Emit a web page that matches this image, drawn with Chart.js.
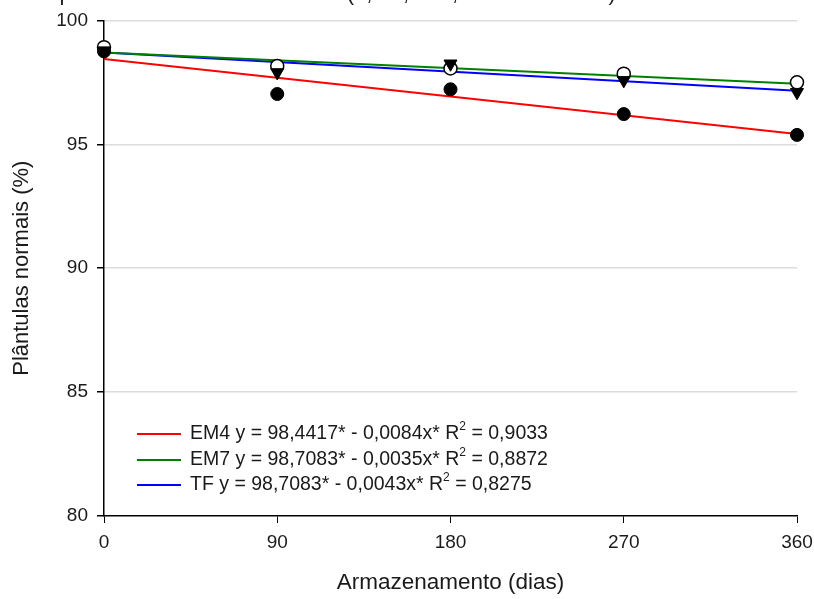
<!DOCTYPE html>
<html>
<head>
<meta charset="utf-8">
<script src="https://cdn.jsdelivr.net/npm/chart.js@4/dist/chart.umd.min.js"></script>
<style>
  html, body { margin: 0; padding: 0; background: #fff; overflow: hidden; }
  #wrap { position: relative; width: 814px; height: 599px; }
  #caption {
    position: absolute; top: -18px; right: 192px;
    font: 22px Arial, "Liberation Sans", sans-serif; line-height: 22px;
    color: #222; white-space: nowrap;
  }
</style>
</head>
<body>
<div id="wrap">
  <canvas id="germChart" width="814" height="599"></canvas>
  <div id="caption">sementes tratadas em diferentes períodos de armazenamento (0, 90, 180, 270 e 360 dias).</div>
</div>
<script>
// storage days
const days = [0, 90, 180, 270, 360];

// observed normal seedlings (%)
const em4Values = [98.75, 97.03, 97.22, 96.22, 95.38];
const em7Values = [98.92, 98.16, 98.06, 97.85, 97.50];
const tfValues  = [98.78, 97.90, 98.25, 97.58, 97.10];

// fitted regressions
const seriesNames = ["EM4", "EM7", "TF"];
const intercepts  = [98.4417, 98.7083, 98.7083];
const slopes      = [0.0084, 0.0035, 0.0043];
const r2Values    = [0.9033, 0.8872, 0.8275];
const lineColors  = ["#ff0000", "#008000", "#0000ff"];

const yTicks = [80, 85, 90, 95, 100];

const FONT = "Arial, 'Liberation Sans', sans-serif";

const fmt = v => v.toFixed(4).replace(".", ",");

const toPoints = vals => days.map((d, i) => ({ x: d, y: vals[i] }));

// regression lines from the stated equations
const lineSets = seriesNames.map((name, i) => ({
  type: "line",
  label: name,
  data: [0, 360].map(x => ({ x: x, y: intercepts[i] - slopes[i] * x })),
  borderColor: lineColors[i],
  borderWidth: 2,
  pointRadius: 0,
  fill: false,
  order: 10
}));

// legend drawn inside the plot, bottom-left
const eqLegend = {
  id: "eqLegend",
  afterDatasetsDraw(chart) {
    const ctx = chart.ctx;
    const x0 = 137, x1 = 181, tx = 190;
    const rows = [434, 460, 485];
    ctx.save();
    ctx.textBaseline = "middle";
    ctx.fillStyle = "#1a1a1a";
    seriesNames.forEach((name, i) => {
      const y = rows[i];
      ctx.strokeStyle = lineColors[i];
      ctx.lineWidth = 2;
      ctx.beginPath();
      ctx.moveTo(x0, y);
      ctx.lineTo(x1, y);
      ctx.stroke();
      ctx.font = "19.5px " + FONT;
      let s = name + " y = " + fmt(intercepts[i]) + "* - " + fmt(slopes[i]) + "x* R";
      ctx.fillText(s, tx, y);
      let x = tx + ctx.measureText(s).width;
      ctx.font = "12px " + FONT;
      ctx.fillText("2", x, y - 7);
      x += ctx.measureText("2").width;
      ctx.font = "19.5px " + FONT;
      ctx.fillText(" = " + fmt(r2Values[i]), x, y);
    });
    ctx.restore();
  }
};

new Chart(document.getElementById("germChart").getContext("2d"), {
  type: "scatter",
  data: {
    datasets: [
      ...lineSets,
      {
        label: "EM4",
        data: toPoints(em4Values),
        pointStyle: "circle",
        pointRadius: 6.5,
        backgroundColor: "#000",
        borderColor: "#000",
        borderWidth: 1,
        clip: false,
        order: 3
      },
      {
        label: "EM7",
        data: toPoints(em7Values),
        pointStyle: "circle",
        pointRadius: 6.5,
        backgroundColor: "#fff",
        borderColor: "#000",
        borderWidth: 1.5,
        clip: false,
        order: 2
      },
      {
        label: "TF",
        data: toPoints(tfValues),
        pointStyle: "triangle",
        pointRotation: 180,
        pointRadius: 7.5,
        backgroundColor: "#000",
        borderColor: "#000",
        borderWidth: 1,
        clip: false,
        order: 1
      }
    ]
  },
  options: {
    responsive: false,
    animation: false,
    layout: { padding: { top: 17, right: 17, bottom: 0, left: 0 } },
    plugins: {
      legend: { display: false },
      tooltip: { enabled: false }
    },
    scales: {
      x: {
        type: "linear",
        min: 0,
        max: 360,
        afterBuildTicks: s => { s.ticks = days.map(v => ({ value: v })); },
        afterFit: s => { s.height = 83; s.paddingRight = 0; s.paddingLeft = 0; },
        border: { color: "#000", width: 1.5 },
        grid: { drawOnChartArea: false, tickColor: "#000", tickLength: 7, tickWidth: 1 },
        ticks: { color: "#1a1a1a", font: { family: FONT, size: 19 }, padding: 8, maxRotation: 0 },
        title: {
          display: true,
          text: "Armazenamento (dias)",
          color: "#1a1a1a",
          font: { family: FONT, size: 22.5 },
          padding: { top: 0, bottom: 3 }
        }
      },
      y: {
        min: 80,
        max: 100,
        afterBuildTicks: s => { s.ticks = yTicks.map(v => ({ value: v })); },
        afterFit: s => { s.width = 104; },
        border: { color: "#000", width: 1.5 },
        grid: {
          color: c => (c.tick && c.tick.value === 80 ? "rgba(0,0,0,0)" : "#dcdcdc"),
          lineWidth: 1.5,
          tickColor: "#000",
          tickLength: 7
        },
        ticks: { color: "#1a1a1a", font: { family: FONT, size: 19 }, padding: 9 },
        title: {
          display: true,
          text: "Plântulas normais (%)",
          color: "#1a1a1a",
          font: { family: FONT, size: 22 },
          padding: { top: 9, bottom: 0 }
        }
      }
    }
  },
  plugins: [eqLegend]
});
</script>
</body>
</html>
